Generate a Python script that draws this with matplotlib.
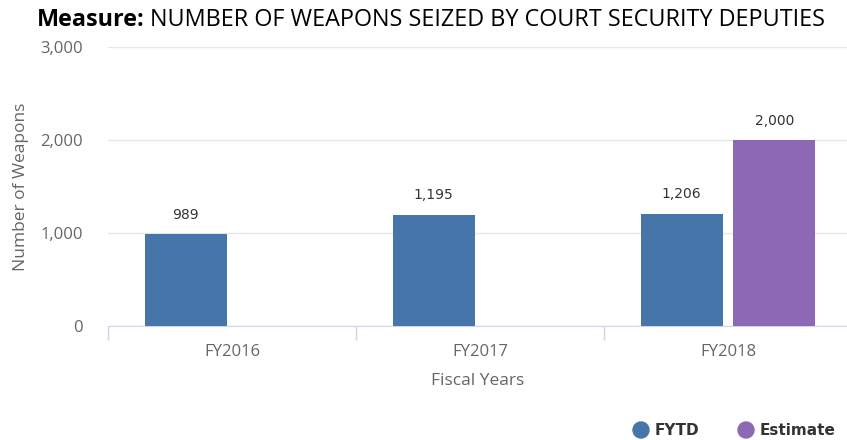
import matplotlib
matplotlib.use("Agg")
import matplotlib.pyplot as plt
import matplotlib.patches as mpatches
import numpy as np

categories = ["FY2016", "FY2017", "FY2018"]
fytd = [989, 1195, 1206]
estimate = [None, None, 2000]
series_names = ["FYTD", "Estimate"]
yticks = [0, 1000, 2000, 3000]

c_fytd = "#4676a9"
c_est = "#8d69b5"
axis_font = "Open Sans"

fig = plt.figure(figsize=(8.47, 4.40), dpi=100)
ax = fig.add_axes([108/847, 1-326/440, (847-108)/847, (326-47)/440])

x = np.arange(len(categories))
w = 0.33
off = 0.187
for i, v in enumerate(fytd):
    if v is not None:
        ax.bar(x[i]-off, v, width=w, color=c_fytd, zorder=3)
        ax.annotate(f"{v:,}", (x[i]-off, v), xytext=(0, 9), textcoords="offset points",
                    ha="center", va="bottom", fontsize=10, color="#333333")
for i, v in enumerate(estimate):
    if v is not None:
        ax.bar(x[i]+off, v, width=w, color=c_est, zorder=3)
        ax.annotate(f"{v:,}", (x[i]+off, v), xytext=(0, 9), textcoords="offset points",
                    ha="center", va="bottom", fontsize=10, color="#333333")

ax.set_xlim(-0.5, 2.48)
ax.set_ylim(0, 3000)
ax.set_yticks(yticks)
ax.set_yticklabels([f"{t:,}" for t in yticks], color="#666666", fontsize=12, family=axis_font)
ax.tick_params(axis="y", length=0, pad=18)
ax.yaxis.grid(True, color="#e6e6e6", linewidth=1, zorder=0)
ax.set_xticks(x)
ax.set_xticklabels(categories, color="#666666", fontsize=12, family=axis_font)
ax.tick_params(axis="x", length=0, pad=13)
ax.set_xticks([-0.5, 0.5, 1.5], minor=True)
ax.tick_params(axis="x", which="minor", length=10, color="#ccd6eb", width=1)
for s in ["top", "right", "left"]:
    ax.spines[s].set_visible(False)
ax.spines["bottom"].set_color("#ccd6eb")
ax.set_xlabel("Fiscal Years", color="#666666", fontsize=12.5, labelpad=9, family=axis_font)
ax.set_ylabel("Number of Weapons", color="#666666", fontsize=12.5, labelpad=8, family=axis_font)

t1 = fig.text(37/847, 1-20/440, "Measure:", fontsize=16.8, va="center", ha="left",
              family="Open Sans", fontweight="bold", color="#000000")
fig.canvas.draw()
bb = t1.get_window_extent()
fig.text((bb.x1 + 5)/847, 1-20/440, "NUMBER OF WEAPONS SEIZED BY COURT SECURITY DEPUTIES",
         fontsize=16.8, va="center", ha="left", family="Open Sans", color="#000000")

lx = [641, 746]
for xi, name, c in zip(lx, series_names, [c_fytd, c_est]):
    fig.patches.append(mpatches.Ellipse((xi/847, 1-430/440), 16/847, 16/440,
                                        transform=fig.transFigure, color=c, figure=fig))
    fig.text((xi+14)/847, 1-430/440, name, fontsize=11, fontweight="bold", color="#333333",
             va="center", ha="left")

fig.savefig("out.png", dpi=100)
